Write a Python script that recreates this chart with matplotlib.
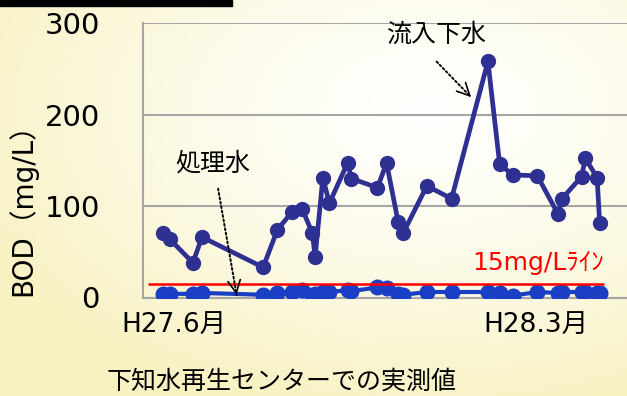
import matplotlib
matplotlib.use("Agg")
import matplotlib.pyplot as plt
import numpy as np

plt.rcParams['font.family'] = ['DejaVu Sans', 'Noto Sans CJK JP']

# sampling day (days from first sample) and BOD in mg/L
days = [0, 5, 23, 30, 77, 88, 99, 107, 115, 117, 123, 128, 142, 145, 165,
        172, 181, 185, 203, 222, 250, 259, 269, 288, 304, 307, 322, 325, 334, 336]
inflow = [70, 64, 38, 66, 33, 74, 93, 97, 70, 44, 131, 103, 147, 130, 120,
          147, 82, 71, 122, 108, 258, 146, 134, 133, 91, 108, 132, 152, 131, 81]
treated = [4, 4, 4, 5, 3, 5, 6, 8, 3, 4, 6, 6, 8, 7, 11,
           10, 4, 3, 6, 6, 6, 5, 2, 6, 5, 6, 6, 6, 5, 5]

limit = 15
xtick_days = [8, 287]
xtick_labels = ['H27.6月', 'H28.3月']
yticks = [0, 100, 200, 300]

fig = plt.figure(figsize=(6.27, 3.96), dpi=100)

# cream background, whitest around the upper middle, yellower toward bottom left
bg = fig.add_axes([0, 0, 1, 1])
yy, xx = np.mgrid[0:396, 0:627]
d = np.sqrt(((xx - 430) / 500.0) ** 2 + ((yy - 110) / 310.0) ** 2)
t = np.clip(d, 0, 1)[..., None] ** 1.4
white = np.array([255, 255, 253]) / 255.0
cream = np.array([248, 242, 194]) / 255.0
bg.imshow(white * (1 - t) + cream * t, aspect='auto', extent=[0, 1, 0, 1])
bg.axis('off')

# black strip along the top
fig.patches.append(plt.Rectangle((0, 1 - 6 / 396), 232 / 627, 6 / 396,
                                 transform=fig.transFigure, color='black'))

ax = fig.add_axes([143 / 627, 1 - 297.5 / 396, (627 - 143) / 627, 274.5 / 396])
ax.patch.set_alpha(0)
ax.set_xlim(-15.4, 357)
ax.set_ylim(0, 300)

ax.set_yticks(yticks)
ax.set_xticks(xtick_days)
ax.set_xticklabels(xtick_labels)
ax.tick_params(axis='y', length=0, pad=31, labelsize=21)
ax.tick_params(axis='x', length=0, pad=11, labelsize=19)
ax.grid(axis='y', color='#a6a6a6', linewidth=1.5)
ax.set_axisbelow(True)
for s in ['top', 'right']:
    ax.spines[s].set_visible(False)
for s in ['left', 'bottom']:
    ax.spines[s].set_color('#a6a6a6')
    ax.spines[s].set_linewidth(1.5)

ax.plot(days, inflow, color='#2e3092', linewidth=3.4, marker='o',
        markersize=10, zorder=4)
ax.plot(days, treated, color='#1a3fc4', linewidth=3, marker='o',
        markersize=10.5, zorder=4)

ax.hlines(limit, -11.5, 339, color='#ff0000', linewidth=1.8, zorder=5)
ax.text(339, limit + 23, '15mg/Lﾗｲﾝ', color='#ff0000', fontsize=18,
        ha='right', va='center')

# labels with dotted pointers
def pointer(label, xy_text, tail, tip):
    ax.text(xy_text[0], xy_text[1], label, fontsize=18, ha='center',
            va='center', zorder=6)
    ax.annotate('', xy=tip, xytext=tail,
                arrowprops=dict(arrowstyle='-', color='black', lw=1.4,
                                linestyle=(0, (1, 1.3))), zorder=6)
    back = (tip[0] + (tail[0] - tip[0]) * 0.05, tip[1] + (tail[1] - tip[1]) * 0.05)
    ax.annotate('', xy=tip, xytext=back,
                arrowprops=dict(arrowstyle='->,head_length=0.9,head_width=0.45',
                                color='black', lw=1.2), zorder=6)

pointer('処理水', (38, 147), (42, 122), (57, 0))
pointer('流入下水', (210, 287), (209, 260), (237, 219))

fig.text(22 / 627, 1 - 203 / 396, 'BOD（mg/L）', rotation=90, fontsize=20,
         ha='center', va='center')
fig.text(282 / 627, 1 - 382 / 396, '下知水再生センターでの実測値', fontsize=18,
         ha='center', va='center')

fig.savefig('out.png', dpi=100)
